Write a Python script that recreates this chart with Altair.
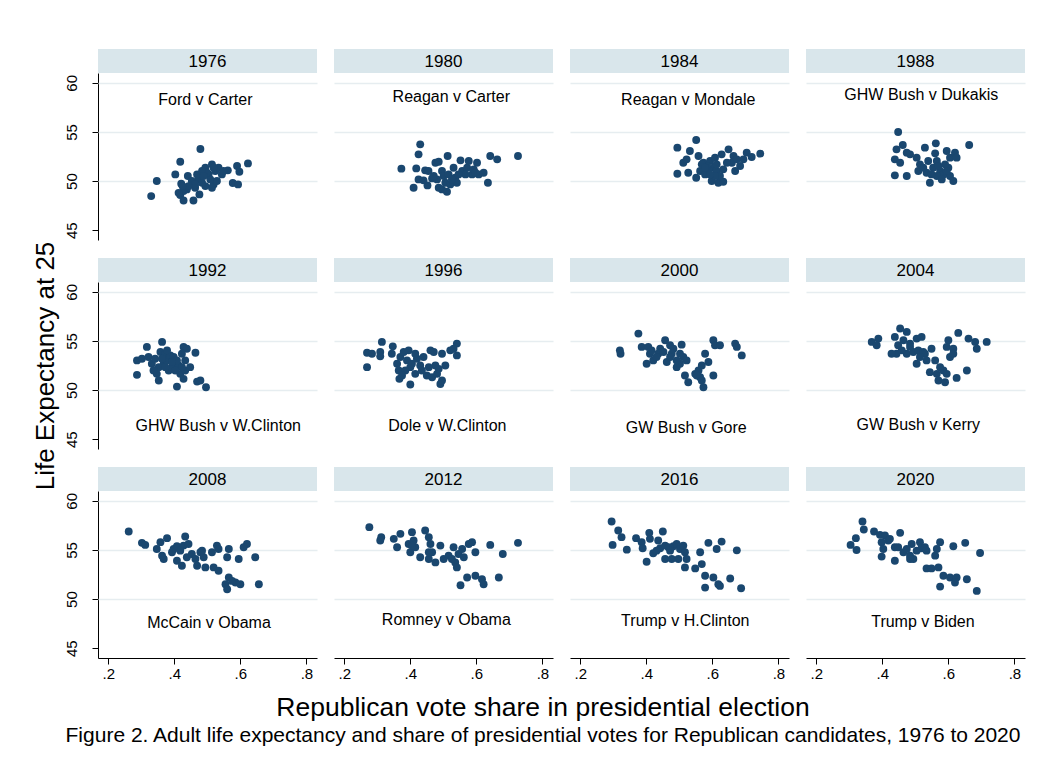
import altair as alt
import pandas as pd

FONT = "Liberation Sans"

YEARS = ["1976", "1980", "1984", "1988", "1992", "1996",
         "2000", "2004", "2008", "2012", "2016", "2020"]
MATCHUPS = ["Ford v Carter", "Reagan v Carter", "Reagan v Mondale", "GHW Bush v Dukakis",
            "GHW Bush v W.Clinton", "Dole v W.Clinton", "GW Bush v Gore", "GW Bush v Kerry",
            "McCain v Obama", "Romney v Obama", "Trump v H.Clinton", "Trump v Biden"]
LABEL_X = [0.494, 0.524, 0.527, 0.518, 0.533, 0.512, 0.521, 0.509, 0.505, 0.509, 0.518, 0.523]
LABEL_Y = [58.27, 58.57, 58.27, 58.78, 46.36, 46.36, 46.15, 46.46, 47.56, 47.90, 47.72, 47.62]

X1976 = [0.330, 0.347, 0.418, 0.479, 0.403, 0.441, 0.421, 0.418, 0.428, 0.458, 0.476, 0.514,
         0.494, 0.504, 0.524, 0.544, 0.562, 0.590, 0.597, 0.623, 0.577, 0.593, 0.519, 0.494,
         0.463, 0.438, 0.474, 0.484, 0.509, 0.529, 0.499, 0.469, 0.453, 0.534, 0.549, 0.484,
         0.463, 0.514, 0.428, 0.443, 0.489, 0.519, 0.413, 0.425]
Y1976 = [48.47, 50.00, 51.97, 53.26, 50.68, 50.51, 49.73, 48.57, 48.02, 48.02, 48.64, 51.70,
         51.36, 50.68, 51.02, 50.68, 51.09, 51.53, 50.95, 51.80, 49.80, 49.66, 49.66, 49.49,
         49.32, 49.15, 50.17, 49.83, 50.17, 50.00, 50.85, 50.68, 50.00, 51.36, 51.02, 51.02,
         49.66, 49.32, 48.98, 49.49, 50.51, 51.36, 48.80, 49.49]

X1980 = [0.373, 0.430, 0.425, 0.513, 0.418, 0.410, 0.425, 0.452, 0.445, 0.455, 0.476, 0.486,
         0.496, 0.481, 0.496, 0.511, 0.506, 0.521, 0.536, 0.541, 0.552, 0.557, 0.572, 0.577,
         0.587, 0.602, 0.607, 0.622, 0.635, 0.642, 0.663, 0.726, 0.501, 0.516, 0.531, 0.466,
         0.526, 0.567, 0.592, 0.486, 0.440, 0.471, 0.546, 0.597]
Y1980 = [51.26, 53.74, 52.72, 52.55, 51.29, 49.32, 50.17, 49.56, 51.09, 51.02, 51.87, 51.97,
         51.02, 50.17, 49.15, 48.91, 49.83, 49.66, 50.34, 49.83, 52.11, 51.02, 51.36, 52.04,
         50.68, 51.87, 50.68, 50.85, 49.83, 52.55, 52.21, 52.55, 50.51, 50.68, 51.36, 50.27,
         50.17, 50.68, 51.19, 49.32, 50.07, 50.51, 50.68, 50.85]

X1984 = [0.494, 0.551, 0.532, 0.558, 0.512, 0.522, 0.494, 0.527, 0.551, 0.563, 0.578, 0.573,
         0.593, 0.608, 0.603, 0.613, 0.598, 0.618, 0.633, 0.633, 0.628, 0.649, 0.664, 0.659,
         0.669, 0.684, 0.704, 0.719, 0.745, 0.674, 0.644, 0.588, 0.623, 0.583, 0.568, 0.608,
         0.694, 0.593, 0.613, 0.578]
Y1984 = [53.40, 54.18, 53.06, 52.55, 51.87, 52.21, 50.75, 50.85, 50.34, 51.02, 50.68, 51.87,
         52.04, 52.38, 51.36, 51.02, 50.00, 49.83, 49.93, 51.19, 52.72, 53.23, 52.55, 51.87,
         51.02, 51.53, 52.89, 52.45, 52.79, 52.21, 51.87, 51.19, 50.51, 51.53, 51.70, 50.51,
         52.21, 50.68, 51.70, 51.36]

X1988 = [0.448, 0.462, 0.443, 0.474, 0.438, 0.454, 0.484, 0.529, 0.562, 0.504, 0.514, 0.539,
         0.560, 0.565, 0.554, 0.575, 0.595, 0.605, 0.620, 0.625, 0.600, 0.585, 0.605, 0.615,
         0.544, 0.509, 0.438, 0.474, 0.663, 0.534, 0.565, 0.590, 0.524, 0.580, 0.549, 0.595,
         0.570]
Y1988 = [54.99, 53.67, 53.23, 52.89, 52.21, 51.87, 52.72, 53.40, 53.84, 52.38, 51.70, 52.04,
         52.82, 52.04, 51.36, 51.02, 53.06, 52.38, 52.89, 52.38, 51.36, 50.68, 50.51, 50.00,
         49.83, 51.02, 50.58, 50.51, 53.67, 50.85, 50.51, 51.70, 51.36, 50.17, 50.68, 51.02,
         51.53]

X1992 = [0.287, 0.287, 0.302, 0.317, 0.322, 0.332, 0.347, 0.353, 0.363, 0.358, 0.373, 0.368,
         0.378, 0.383, 0.388, 0.398, 0.393, 0.408, 0.413, 0.418, 0.428, 0.438, 0.428, 0.433,
         0.448, 0.464, 0.469, 0.496, 0.353, 0.342, 0.408, 0.423, 0.363, 0.378, 0.403, 0.337,
         0.393, 0.423, 0.373, 0.433, 0.479]
Y1992 = [51.55, 53.02, 53.19, 54.39, 53.36, 52.68, 51.65, 50.97, 54.90, 53.87, 53.70, 52.68,
         53.02, 51.99, 53.53, 53.36, 52.33, 50.35, 52.50, 51.65, 54.39, 54.21, 51.14, 51.99,
         52.33, 53.80, 50.86, 50.28, 52.33, 53.19, 53.02, 52.33, 53.19, 54.04, 51.99, 51.99,
         52.85, 53.70, 52.33, 53.02, 50.97]

X1996 = [0.269, 0.284, 0.269, 0.309, 0.314, 0.309, 0.347, 0.344, 0.360, 0.370, 0.365, 0.367,
         0.380, 0.390, 0.395, 0.400, 0.400, 0.415, 0.420, 0.430, 0.440, 0.450, 0.461, 0.466,
         0.471, 0.476, 0.481, 0.491, 0.496, 0.496, 0.506, 0.521, 0.541, 0.541, 0.385, 0.375,
         0.405, 0.435, 0.456, 0.415, 0.486, 0.531]
Y1996 = [53.80, 53.70, 52.33, 53.87, 54.90, 53.43, 54.45, 53.70, 52.68, 53.36, 51.99, 51.14,
         53.87, 53.02, 54.04, 52.33, 50.56, 51.65, 53.19, 52.50, 53.36, 51.48, 54.04, 51.31,
         53.87, 52.50, 51.65, 50.62, 50.97, 53.70, 52.50, 54.04, 54.73, 53.53, 51.99, 51.48,
         52.68, 51.99, 52.33, 53.70, 52.16, 54.21]

X2000 = [0.320, 0.322, 0.376, 0.386, 0.406, 0.411, 0.401, 0.421, 0.416, 0.442, 0.436, 0.457,
         0.452, 0.462, 0.472, 0.477, 0.482, 0.492, 0.507, 0.502, 0.512, 0.502, 0.522, 0.517,
         0.527, 0.548, 0.558, 0.563, 0.568, 0.573, 0.578, 0.588, 0.603, 0.603, 0.608, 0.623,
         0.669, 0.674, 0.689, 0.431, 0.472, 0.492, 0.553, 0.568]
Y2000 = [54.04, 53.70, 55.75, 54.39, 54.39, 53.70, 52.68, 53.02, 54.04, 54.21, 53.70, 55.07,
         53.87, 52.85, 54.56, 53.70, 54.21, 52.33, 54.62, 53.70, 53.36, 52.68, 53.02, 51.48,
         50.80, 51.65, 51.99, 51.31, 52.50, 50.28, 53.70, 52.85, 51.48, 55.07, 54.56, 54.56,
         54.73, 54.39, 53.53, 53.36, 53.36, 53.02, 51.48, 50.97]

X2004 = [0.368, 0.388, 0.383, 0.438, 0.454, 0.474, 0.448, 0.443, 0.428, 0.464, 0.484, 0.504,
         0.519, 0.474, 0.494, 0.509, 0.524, 0.529, 0.549, 0.504, 0.534, 0.560, 0.544, 0.565,
         0.570, 0.590, 0.585, 0.600, 0.595, 0.615, 0.605, 0.615, 0.625, 0.630, 0.656, 0.661,
         0.681, 0.686, 0.716, 0.514, 0.484, 0.459, 0.575, 0.595]
Y2004 = [54.90, 55.24, 54.56, 55.41, 56.27, 55.92, 54.56, 53.70, 53.70, 55.07, 54.73, 55.24,
         55.41, 53.70, 53.87, 54.04, 53.87, 53.70, 54.21, 52.68, 53.02, 53.02, 51.82, 51.65,
         50.97, 50.80, 51.99, 55.07, 54.39, 54.21, 53.36, 53.70, 51.24, 55.82, 51.99, 55.24,
         54.90, 54.21, 54.90, 53.36, 54.39, 54.04, 52.33, 51.65]

X2008 = [0.262, 0.302, 0.312, 0.347, 0.358, 0.378, 0.368, 0.363, 0.398, 0.408, 0.408, 0.423,
         0.428, 0.433, 0.438, 0.443, 0.453, 0.469, 0.479, 0.489, 0.494, 0.484, 0.519, 0.529,
         0.534, 0.534, 0.560, 0.565, 0.565, 0.555, 0.560, 0.585, 0.600, 0.595, 0.620, 0.610,
         0.645, 0.656, 0.418, 0.393, 0.464, 0.575, 0.514]
Y2008 = [56.88, 55.72, 55.51, 55.10, 55.79, 56.20, 54.08, 54.42, 55.10, 53.90, 55.37, 53.39,
         55.44, 56.37, 54.25, 55.61, 54.59, 53.39, 54.76, 54.25, 53.22, 54.93, 53.22, 55.44,
         52.88, 55.10, 54.25, 55.10, 52.20, 51.51, 51.00, 51.68, 51.51, 54.08, 55.61, 55.27,
         54.25, 51.51, 54.93, 54.76, 54.08, 51.85, 54.76]

X2012 = [0.276, 0.312, 0.309, 0.350, 0.360, 0.370, 0.395, 0.400, 0.405, 0.410, 0.415, 0.430,
         0.445, 0.456, 0.461, 0.466, 0.456, 0.476, 0.491, 0.501, 0.531, 0.536, 0.541, 0.546,
         0.557, 0.562, 0.577, 0.587, 0.597, 0.597, 0.617, 0.622, 0.642, 0.552, 0.572, 0.668,
         0.680, 0.726, 0.456, 0.516, 0.405, 0.526]
Y2012 = [57.32, 56.30, 55.96, 56.13, 55.27, 56.64, 55.61, 54.76, 56.81, 55.96, 55.27, 54.25,
         56.98, 56.30, 55.61, 54.76, 54.08, 53.73, 55.44, 54.08, 55.27, 53.73, 53.22, 54.59,
         55.10, 54.25, 55.61, 55.79, 54.76, 52.37, 52.02, 51.51, 55.51, 51.41, 52.20, 52.20,
         54.59, 55.72, 54.76, 54.42, 55.44, 54.08]

X2016 = [0.295, 0.315, 0.325, 0.298, 0.341, 0.369, 0.386, 0.389, 0.409, 0.411, 0.421, 0.401,
         0.436, 0.450, 0.442, 0.457, 0.457, 0.467, 0.477, 0.482, 0.492, 0.497, 0.502, 0.512,
         0.517, 0.517, 0.522, 0.548, 0.563, 0.568, 0.578, 0.578, 0.588, 0.603, 0.613, 0.618,
         0.628, 0.623, 0.654, 0.674, 0.687, 0.431, 0.472]
Y2016 = [57.90, 56.98, 56.30, 55.51, 55.03, 56.20, 55.79, 55.17, 56.74, 56.13, 54.66, 53.80,
         55.96, 56.88, 55.17, 55.44, 54.08, 55.27, 54.08, 55.37, 55.61, 54.08, 55.10, 55.44,
         54.76, 53.22, 54.08, 53.12, 54.76, 53.56, 52.37, 51.17, 55.72, 52.20, 55.10, 51.51,
         55.85, 51.34, 52.09, 54.96, 51.10, 54.93, 54.93]

X2020 = [0.340, 0.344, 0.320, 0.304, 0.322, 0.375, 0.393, 0.408, 0.418, 0.398, 0.403, 0.438,
         0.454, 0.448, 0.438, 0.398, 0.464, 0.484, 0.494, 0.489, 0.514, 0.519, 0.529, 0.534,
         0.560, 0.565, 0.575, 0.534, 0.549, 0.570, 0.585, 0.605, 0.625, 0.620, 0.575, 0.615,
         0.651, 0.656, 0.686, 0.696, 0.474, 0.504, 0.423, 0.484]
Y2020 = [57.90, 57.08, 56.20, 55.51, 54.99, 56.88, 56.54, 56.47, 55.96, 55.79, 55.10, 55.27,
         56.74, 55.27, 53.90, 54.32, 54.76, 54.42, 54.08, 55.61, 55.79, 55.17, 55.27, 54.93,
         54.42, 55.10, 55.79, 53.12, 53.12, 53.22, 52.37, 52.20, 52.20, 51.68, 51.27, 55.37,
         55.72, 52.02, 50.83, 54.69, 55.10, 54.93, 56.13, 54.08]

SERIES = {
    "1976": (X1976, Y1976), "1980": (X1980, Y1980), "1984": (X1984, Y1984),
    "1988": (X1988, Y1988), "1992": (X1992, Y1992), "1996": (X1996, Y1996),
    "2000": (X2000, Y2000), "2004": (X2004, Y2004), "2008": (X2008, Y2008),
    "2012": (X2012, Y2012), "2016": (X2016, Y2016), "2020": (X2020, Y2020),
}

rows = []
for yr in YEARS:
    xs, ys = SERIES[yr]
    for a, b in zip(xs, ys):
        rows.append({"year": yr, "kind": "pt", "x": a, "y": b, "label": ""})
for yr, lab, lx, ly in zip(YEARS, MATCHUPS, LABEL_X, LABEL_Y):
    rows.append({"year": yr, "kind": "lab", "x": lx, "y": ly, "label": lab})
df = pd.DataFrame(rows)

W, H = 219, 167
BAND = 24
NAVY = "#1a476f"

xscale = alt.Scale(domain=[0.169, 0.832], nice=False, zero=False)
yscale = alt.Scale(domain=[44, 61], nice=False, zero=False)

xaxis = alt.Axis(values=[0.2, 0.4, 0.6, 0.8], labelExpr="'.' + round(datum.value*10)",
                 title=None, grid=False, tickSize=6, labelPadding=2, labelFontSize=15,
                 labelFont=FONT, labelColor="#000", domainColor="#000", tickColor="#000",
                 labelFlush=False)
yaxis = alt.Axis(values=[45, 50, 55, 60], title=None, labelAngle=270, labelAlign="center",
                 labelBaseline="bottom", tickSize=6, labelPadding=13, labelFontSize=15,
                 labelFont=FONT, labelColor="#000", domainColor="#000", tickColor="#000",
                 grid=True, gridColor="#e6edf0", gridWidth=1.5,
                 gridOpacity={"condition": {"test": "datum.value == 45", "value": 0}, "value": 1})

base = alt.Chart()

bands = base.transform_filter("datum.kind == 'lab'").mark_rect(color="#d9e6eb").encode(
    x=alt.value(0), x2=alt.value(W), y=alt.value(-BAND), y2=alt.value(0))

year_text = base.transform_filter("datum.kind == 'lab'").mark_text(
    fontSize=17, font=FONT, color="#000", baseline="middle", align="center").encode(
    x=alt.value(W / 2), y=alt.value(-BAND / 2 + 1), text="year:N")

points = base.transform_filter("datum.kind == 'pt'").mark_circle(
    size=62, opacity=1, color=NAVY).encode(
    x=alt.X("x:Q", scale=xscale, axis=xaxis),
    y=alt.Y("y:Q", scale=yscale, axis=yaxis))

labels = base.transform_filter("datum.kind == 'lab'").mark_text(
    fontSize=16, font=FONT, color="#000", baseline="middle", align="center").encode(
    x=alt.X("x:Q", scale=xscale), y=alt.Y("y:Q", scale=yscale), text="label:N")

panel = alt.layer(bands, year_text, points, labels, data=df).properties(width=W, height=H)

grid = panel.facet(
    facet=alt.Facet("year:N", header=alt.Header(labels=False, labelExpr="''", labelFontSize=1,
                                                labelPadding=0, labelColor="transparent",
                                                title=None)),
    columns=4,
    spacing={"row": 17, "column": 17},
)

ytitle = alt.Chart(pd.DataFrame({"t": ["Life Expectancy at 25"]})).mark_text(
    angle=270, fontSize=26, font=FONT, color="#000", baseline="middle", align="center").encode(
    text="t:N", x=alt.value(12), y=alt.value(293)).properties(width=20, height=587)

chart = alt.hconcat(ytitle, grid, spacing=5).properties(
    title=alt.TitleParams(
        text="Republican vote share in presidential election",
        subtitle="Figure 2. Adult life expectancy and share of presidential votes for Republican candidates, 1976 to 2020",
        orient="bottom", anchor="middle", fontSize=26.5, subtitleFontSize=21,
        font=FONT, subtitleFont=FONT, color="#000", subtitleColor="#000",
        fontWeight="normal", offset=14, subtitlePadding=3, dx=14),
    padding={"top": 40, "left": 25, "right": 5, "bottom": 5},
).configure_view(stroke=None).configure_header(
    labels=False, labelFontSize=1, labelPadding=0, labelColor="transparent", titlePadding=0
)

chart.save("out.html", embed_options={"renderer": "svg", "actions": False})
